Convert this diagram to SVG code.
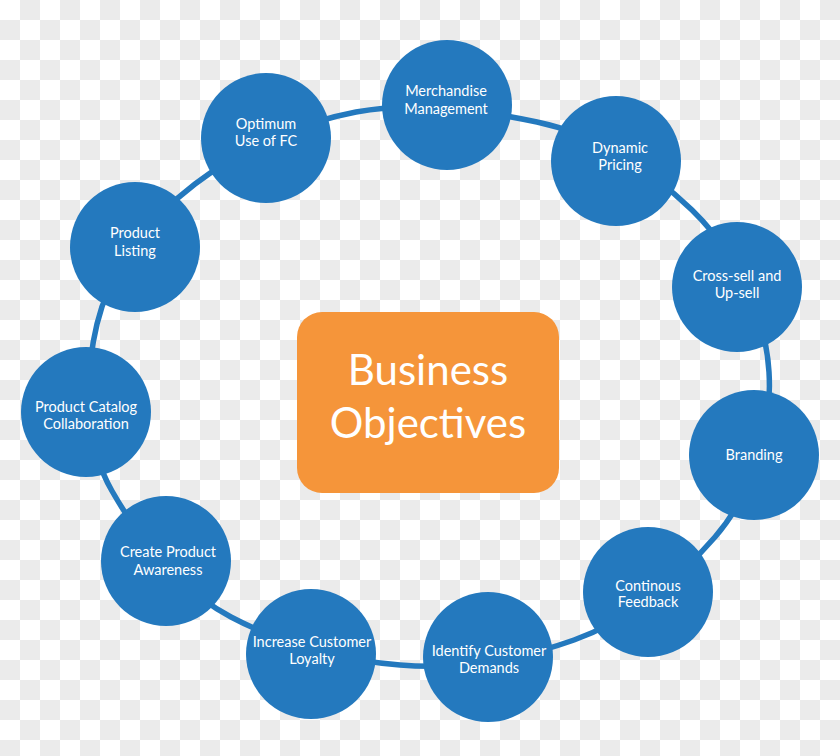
<svg xmlns="http://www.w3.org/2000/svg" width="840" height="756" viewBox="0 0 840 756">
<defs>
<pattern id="checker" x="0" y="0" width="40" height="40" patternUnits="userSpaceOnUse">
<rect width="40" height="40" fill="#ffffff"/>
<rect x="20" y="0" width="20" height="20" fill="#ebebeb"/>
<rect x="0" y="20" width="20" height="20" fill="#ebebeb"/>
</pattern>
<style>
.node circle{fill:#2479be;}
.node text{fill:#ffffff;font-family:Lato,"Liberation Sans",sans-serif;font-size:14.5px;text-anchor:middle;}
.ring{fill:none;stroke:#2479be;stroke-width:5.5;}
.center text{fill:#ffffff;font-family:Lato,"Liberation Sans",sans-serif;font-size:42px;text-anchor:middle;}
</style>
</defs>
<rect width="840" height="756" fill="url(#checker)"/>
<g id="connectors">
<path class="ring" d="M356,112 C415.4,100.8 477.9,109.7 537,122 C595.2,134.1 649.4,168.6 692,210 C734.9,251.7 765.4,312.3 769,372 C772.5,429.8 752.9,493.2 715,537 C676.9,581 628.8,620.4 574,640 C518.8,659.7 458.4,669.7 400,665 C341.6,660.3 282.9,644.3 231,617 C179.8,590.1 140.8,541.1 112,491 C84.1,442.6 84.1,378.3 97,324 C110.2,268.6 149.6,218.4 195,184 C241.9,148.5 298.2,122.9 356,112 Z"/>
</g>
<g id="business-objectives" class="center">
<rect x="297" y="312" width="262" height="181" rx="25" fill="#f5953a"/>
<text x="428" y="385">Business</text>
<text x="428" y="438">Objectives</text>
</g>
<g id="merchandise-management" class="node">
<circle cx="447" cy="105" r="65"/>
<text x="446" y="96">Merchandise</text>
<text x="446" y="114">Management</text>
</g>
<g id="dynamic-pricing" class="node">
<circle cx="616" cy="161" r="65"/>
<text x="620" y="153">Dynamic</text>
<text x="620" y="170">Pricing</text>
</g>
<g id="cross-sell" class="node">
<circle cx="737" cy="287" r="65"/>
<text x="737" y="281">Cross-sell and</text>
<text x="737" y="298">Up-sell</text>
</g>
<g id="branding" class="node">
<circle cx="754" cy="455" r="65"/>
<text x="754" y="460">Branding</text>
</g>
<g id="continous-feedback" class="node">
<circle cx="648" cy="592" r="65"/>
<text x="648" y="591">Continous</text>
<text x="648" y="607">Feedback</text>
</g>
<g id="identify-customer-demands" class="node">
<circle cx="488" cy="657" r="65"/>
<text x="489" y="656">Identify Customer</text>
<text x="489" y="673">Demands</text>
</g>
<g id="increase-customer-loyalty" class="node">
<circle cx="311" cy="654" r="65"/>
<text x="312" y="647">Increase Customer</text>
<text x="312" y="664">Loyalty</text>
</g>
<g id="create-product-awareness" class="node">
<circle cx="166" cy="561" r="65"/>
<text x="168" y="557">Create Product</text>
<text x="168" y="575">Awareness</text>
</g>
<g id="product-catalog-collaboration" class="node">
<circle cx="86" cy="412" r="65"/>
<text x="86" y="412">Product Catalog</text>
<text x="86" y="429">Collaboration</text>
</g>
<g id="product-listing" class="node">
<circle cx="135" cy="247" r="65"/>
<text x="135" y="238">Product</text>
<text x="135" y="256">Listing</text>
</g>
<g id="optimum-use-of-fc" class="node">
<circle cx="266" cy="138" r="65"/>
<text x="266" y="129">Optimum</text>
<text x="266" y="146">Use of FC</text>
</g>
</svg>
